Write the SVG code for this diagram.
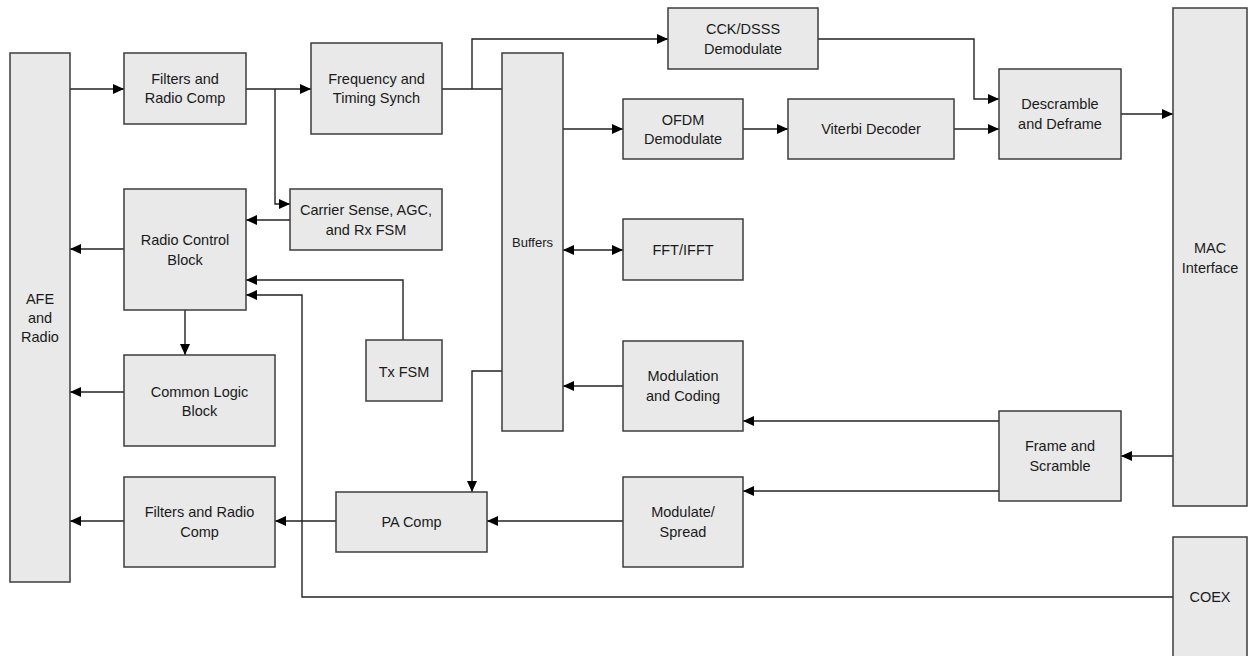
<svg xmlns="http://www.w3.org/2000/svg" width="1248" height="656" viewBox="0 0 1248 656">
<style>
.box{fill:#e9e9e9;stroke:#3c3c3c;stroke-width:1.5}
.lbl{font-family:"Liberation Sans",Arial,sans-serif;font-size:14.5px;fill:#1a1a1a;text-anchor:middle}
.sm{font-size:13px}
.c{fill:none;stroke:#222;stroke-width:1.4}
.a{marker-end:url(#ah)}
</style>
<defs>
<marker id="ah" markerUnits="userSpaceOnUse" markerWidth="11" markerHeight="10" refX="11" refY="5" orient="auto-start-reverse">
<path d="M0,0 L11,5 L0,10 z" fill="#000"/>
</marker>
</defs>
<rect width="1248" height="656" fill="#fff"/>
<g id="connectors">
<path class="c a" d="M70,89 H124"/>
<path class="c a" d="M246,89 H311"/>
<path class="c a" d="M275,89 V204 H290"/>
<path class="c a" d="M290,220 H246"/>
<path class="c a" d="M124,249 H70"/>
<path class="c a" d="M185,310 V355"/>
<path class="c a" d="M124,392 H70"/>
<path class="c a" d="M403,340 V280 H246"/>
<path class="c a" d="M1173,597 H302 V295 H246"/>
<path class="c a" d="M124,521 H70"/>
<path class="c a" d="M336,521 H275"/>
<path class="c a" d="M623,521 H487"/>
<path class="c a" d="M999,491 H743"/>
<path class="c" d="M442,89 H502"/>
<path class="c a" d="M472,89 V39 H668"/>
<path class="c a" d="M818,39 H974 V99 H999"/>
<path class="c a" d="M563,129 H623"/>
<path class="c a" d="M743,129 H788"/>
<path class="c a" d="M954,129 H999"/>
<path class="c a" d="M1121,114 H1173"/>
<path class="c a" d="M563,250 H623" marker-start="url(#ah)"/>
<path class="c a" d="M623,386 H563"/>
<path class="c a" d="M999,421 H743"/>
<path class="c a" d="M1173,456 H1121"/>
<path class="c a" d="M502,371 H472 V492"/>
</g>
<g id="afe"><rect class="box" x="10" y="53" width="60" height="529"/>
<text class="lbl" x="40" y="304">AFE</text><text class="lbl" x="40" y="323">and</text><text class="lbl" x="40" y="342">Radio</text></g>
<g id="filters-rx"><rect class="box" x="124" y="53" width="122" height="71"/>
<text class="lbl" x="185" y="84">Filters and</text><text class="lbl" x="185" y="103">Radio Comp</text></g>
<g id="freq"><rect class="box" x="311" y="43" width="131" height="91"/>
<text class="lbl" x="376.5" y="84">Frequency and</text><text class="lbl" x="376.5" y="103">Timing Synch</text></g>
<g id="carrier"><rect class="box" x="290" y="189" width="152" height="61"/>
<text class="lbl" x="366" y="215">Carrier Sense, AGC,</text><text class="lbl" x="366" y="235">and Rx FSM</text></g>
<g id="rcb"><rect class="box" x="124" y="189" width="122" height="121"/>
<text class="lbl" x="185" y="245">Radio Control</text><text class="lbl" x="185" y="265">Block</text></g>
<g id="txfsm"><rect class="box" x="366" y="340" width="76" height="61"/>
<text class="lbl" x="404" y="376.5">Tx FSM</text></g>
<g id="clb"><rect class="box" x="124" y="355" width="151" height="91"/>
<text class="lbl" x="199.5" y="396.5">Common Logic</text><text class="lbl" x="199.5" y="416">Block</text></g>
<g id="filters-tx"><rect class="box" x="124" y="477" width="151" height="90"/>
<text class="lbl" x="199.5" y="517">Filters and Radio</text><text class="lbl" x="199.5" y="536.5">Comp</text></g>
<g id="pacomp"><rect class="box" x="336" y="492" width="151" height="60"/>
<text class="lbl" x="411.5" y="526.5">PA Comp</text></g>
<g id="buffers"><rect class="box" x="502" y="53" width="61" height="378"/>
<text class="lbl sm" x="532.5" y="247">Buffers</text></g>
<g id="cck"><rect class="box" x="668" y="8" width="150" height="61"/>
<text class="lbl" x="743" y="34">CCK/DSSS</text><text class="lbl" x="743" y="54">Demodulate</text></g>
<g id="ofdm"><rect class="box" x="623" y="99" width="120" height="60"/>
<text class="lbl" x="683" y="125">OFDM</text><text class="lbl" x="683" y="144">Demodulate</text></g>
<g id="viterbi"><rect class="box" x="788" y="99" width="166" height="60"/>
<text class="lbl" x="871" y="134">Viterbi Decoder</text></g>
<g id="descramble"><rect class="box" x="999" y="69" width="122" height="90"/>
<text class="lbl" x="1060" y="109">Descramble</text><text class="lbl" x="1060" y="129">and Deframe</text></g>
<g id="fft"><rect class="box" x="623" y="219" width="120" height="61"/>
<text class="lbl" x="683" y="255">FFT/IFFT</text></g>
<g id="modcoding"><rect class="box" x="623" y="341" width="120" height="90"/>
<text class="lbl" x="683" y="381">Modulation</text><text class="lbl" x="683" y="400.5">and Coding</text></g>
<g id="modspread"><rect class="box" x="623" y="477" width="120" height="90"/>
<text class="lbl" x="683" y="517">Modulate/</text><text class="lbl" x="683" y="536.5">Spread</text></g>
<g id="frame"><rect class="box" x="999" y="411" width="122" height="90"/>
<text class="lbl" x="1060" y="451">Frame and</text><text class="lbl" x="1060" y="470.5">Scramble</text></g>
<g id="mac"><rect class="box" x="1173" y="8" width="74" height="498"/>
<text class="lbl" x="1210" y="253">MAC</text><text class="lbl" x="1210" y="273">Interface</text></g>
<g id="coex"><rect class="box" x="1173" y="537" width="74" height="125"/>
<text class="lbl" x="1210" y="601.5">COEX</text></g>
</svg>
